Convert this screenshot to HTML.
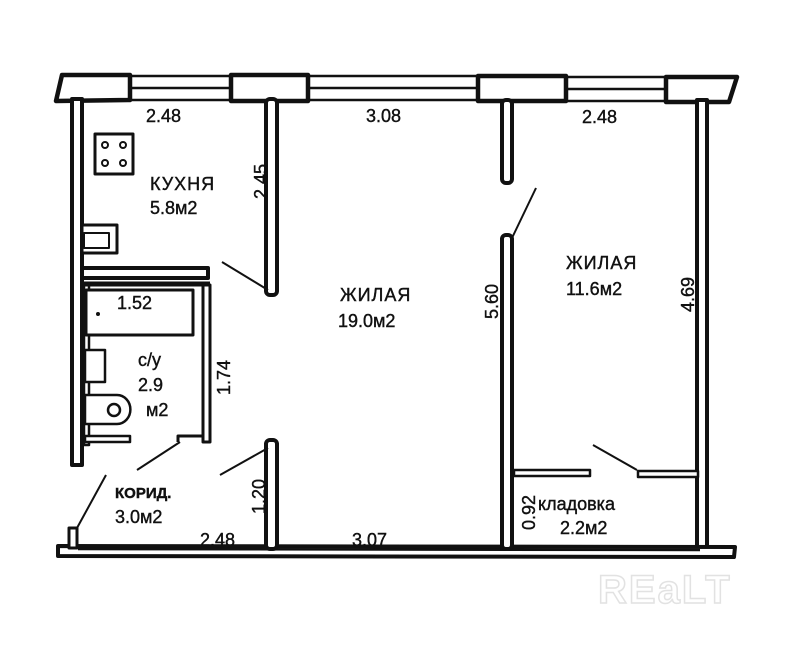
<!DOCTYPE html>
<html><head><meta charset="utf-8"><style>
html,body{margin:0;padding:0;background:#fff;}
svg{display:block}
text{font-family:"Liberation Sans",sans-serif;fill:#111;}
</style></head><body>
<svg width="796" height="647" viewBox="0 0 796 647" xmlns="http://www.w3.org/2000/svg">
<g stroke="#111" stroke-width="3.5" fill="#fff" stroke-linejoin="round">
<g stroke-width="2.5">
<line x1="130" y1="76" x2="232" y2="76"/><line x1="130" y1="88" x2="232" y2="88"/><line x1="130" y1="100" x2="232" y2="100"/>
<line x1="308" y1="76" x2="478" y2="76"/><line x1="308" y1="88" x2="478" y2="88"/><line x1="308" y1="100" x2="478" y2="100"/>
<line x1="566" y1="77" x2="666" y2="77"/><line x1="566" y1="89" x2="666" y2="89"/><line x1="566" y1="101" x2="666" y2="101"/>
</g>
<path d="M62,75 L130,75 L130,100 L56,101 Z" stroke-width="4.5"/>
<rect x="231" y="75" width="77" height="26" stroke-width="4.5"/>
<rect x="478" y="76" width="88" height="25" stroke-width="4.5"/>
<path d="M666,77 L737,77 L729,102 L666,102 Z" stroke-width="4.5"/>
<rect x="72" y="99" width="10" height="366" stroke-width="4"/>
<rect x="697" y="100" width="10" height="448" stroke-width="4"/>
<path d="M58,546 L735,547 L734,557 L58,556 Z" stroke-width="4"/>
<line x1="78" y1="549" x2="700" y2="550" stroke-width="2.5"/>
<rect x="69" y="528" width="8" height="20" stroke-width="3"/>
<rect x="266" y="99" width="11" height="196" rx="4" stroke-width="4"/>
<rect x="82" y="268" width="126" height="10" stroke-width="4"/>
<rect x="203" y="285" width="7" height="157" stroke-width="3"/>
<rect x="84" y="285" width="5" height="160" stroke-width="2.5"/>
<line x1="84" y1="284" x2="210" y2="284" stroke-width="5"/>
<path d="M178,442 L178,436 L203,436" fill="none" stroke-width="3"/>
<rect x="86" y="290" width="107" height="45" stroke-width="3"/>
<rect x="85" y="350" width="20" height="32" stroke-width="2.5"/>
<path d="M85,395 L117,395 A12,13 0 0 1 117,424 L85,424 Z" stroke-width="2.5"/>
<circle cx="114" cy="410" r="6" stroke-width="2.5"/>
<rect x="85" y="436" width="45" height="6" stroke-width="2.5"/>
<rect x="95" y="134" width="38" height="40" stroke-width="3"/>
<g stroke-width="2"><circle cx="105" cy="145" r="3"/><circle cx="123" cy="145" r="3"/><circle cx="105" cy="163" r="3"/><circle cx="123" cy="163" r="3"/></g>
<rect x="82" y="225" width="35" height="28" stroke-width="3"/>
<rect x="84" y="233" width="25" height="15" stroke-width="2"/>
<rect x="266" y="440" width="11" height="109" rx="4" stroke-width="4"/>
<rect x="502" y="100" width="10" height="83" rx="4" stroke-width="4"/>
<rect x="502" y="235" width="10" height="314" rx="4" stroke-width="4"/>
<rect x="514" y="470" width="76" height="6" stroke-width="2.5"/>
<rect x="638" y="471" width="60" height="6" stroke-width="2.5"/>
<g stroke-width="2" fill="none">
<line x1="222" y1="262" x2="268" y2="290"/>
<line x1="512" y1="238" x2="536" y2="188"/>
<line x1="137" y1="470" x2="180" y2="442"/>
<line x1="77" y1="528" x2="106" y2="475"/>
<line x1="220" y1="475" x2="268" y2="448"/>
<line x1="593" y1="445" x2="637" y2="470"/>
</g>
</g>
<circle cx="98" cy="314" r="2" fill="#111"/>
<g font-size="18" stroke="#111" stroke-width="0.4">
<text x="146" y="122">2.48</text>
<text x="366" y="122">3.08</text>
<text x="582" y="123">2.48</text>
<text x="150" y="190" letter-spacing="1">КУХНЯ</text>
<text x="150" y="214">5.8м2</text>
<text x="340" y="301" letter-spacing="1">ЖИЛАЯ</text>
<text x="338" y="327">19.0м2</text>
<text x="566" y="269" letter-spacing="1">ЖИЛАЯ</text>
<text x="566" y="295">11.6м2</text>
<text x="117" y="309">1.52</text>
<text x="138" y="366">с/у</text>
<text x="138" y="391">2.9</text>
<text x="146" y="416">м2</text>
<text x="115" y="498" font-weight="bold" font-size="15">КОРИД.</text>
<text x="115" y="523">3.0м2</text>
<text x="200" y="546">2.48</text>
<text x="352" y="546">3.07</text>
<text x="538" y="510">кладовка</text>
<text x="560" y="534">2.2м2</text>
<text transform="translate(267,199) rotate(-90)">2.45</text>
<text transform="translate(230,395) rotate(-90)">1.74</text>
<text transform="translate(265,514) rotate(-90)">1.20</text>
<text transform="translate(498,319) rotate(-90)">5.60</text>
<text transform="translate(694,312) rotate(-90)">4.69</text>
<text transform="translate(535,530) rotate(-90)">0.92</text>
</g>
<text x="598" y="603" font-size="40" font-weight="bold" fill="none" stroke="#e2e2e2" stroke-width="1.5" style="fill:none" letter-spacing="2">REaLT</text>
</svg>
</body></html>
